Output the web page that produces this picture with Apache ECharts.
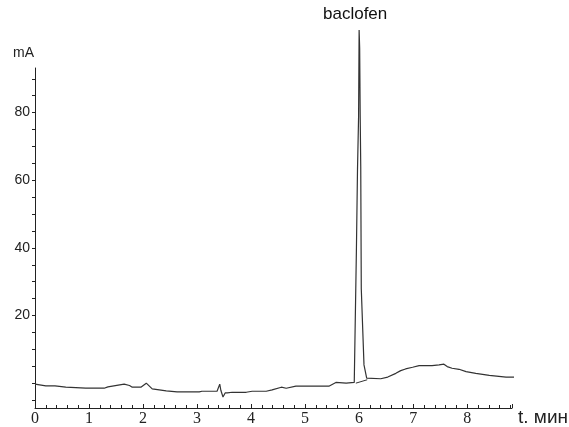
<!DOCTYPE html>
<html>
<head>
<meta charset="utf-8">
<script src="https://cdn.jsdelivr.net/npm/echarts@6/dist/echarts.min.js"></script>
<style>
  html, body { margin: 0; padding: 0; background: #fff; }
  #chart { width: 569px; height: 427px; }
</style>
</head>
<body>
<div id="chart"></div>
<script>
// chromatogram trace, time in min, signal in mA
const time = [0, 0.20, 0.37, 0.57, 0.94, 1.28, 1.35, 1.46, 1.65, 1.75, 1.80, 1.96, 2.06, 2.17, 2.43, 2.63, 3.04, 3.09, 3.37, 3.40, 3.42, 3.44, 3.48, 3.52, 3.56, 3.65, 3.91, 4.02, 4.28, 4.39, 4.56, 4.65, 4.83, 5.44, 5.57, 5.76, 5.91, 5.94, 5.95, 5.97, 5.99, 6.00, 6.01, 6.02, 6.03, 6.04, 6.09, 6.14, 6.15, 6.40, 6.53, 6.68, 6.77, 6.86, 6.99, 7.11, 7.35, 7.48, 7.57, 7.63, 7.72, 7.85, 7.98, 8.16, 8.41, 8.72, 9.06];
const signal = [-0.3, -0.8, -0.8, -1.2, -1.5, -1.5, -1.1, -0.8, -0.3, -0.7, -1.2, -1.2, 0.0, -1.7, -2.3, -2.6, -2.6, -2.4, -2.4, -2.4, -0.3, -2.1, -4.1, -2.9, -2.9, -2.7, -2.7, -2.4, -2.4, -2.0, -1.2, -1.5, -0.9, -0.9, 0.2, 0.0, 0.2, 0.0, 39.7, 63.2, 78.8, 104.4, 99.1, 78.8, 64.1, 27.9, 5.4, 1.5, 1.0, 1.3, 1.8, 2.9, 3.7, 4.2, 4.7, 5.2, 5.2, 5.4, 5.6, 4.9, 4.4, 4.1, 3.4, 2.9, 2.3, 1.8, 1.8];
// integration baseline under the peak
const baseTime = [5.94, 6.15];
const baseSignal = [0.0, 1.0];

const yLabels = [20, 40, 60, 80];
const yTicks = [-5, 0, 5, 10, 15, 20, 25, 30, 35, 40, 45, 50, 55, 60, 65, 70, 75, 80, 85, 90];

const chart = echarts.init(document.getElementById('chart'));

const option = {
  animation: false,
  backgroundColor: '#fff',
  grid: { left: 35, right: 57, top: 68, bottom: 17 },
  xAxis: {
    type: 'value',
    min: 0,
    max: 8.83,
    interval: 1,
    axisLine: { onZero: false, lineStyle: { color: '#222', width: 1 } },
    axisTick: { inside: true, length: 4, lineStyle: { color: '#222' } },
    minorTick: { show: true, splitNumber: 5, length: 3, lineStyle: { color: '#222' } },
    splitLine: { show: false },
    axisLabel: { color: '#222', fontFamily: 'Liberation Serif', fontSize: 16, margin: 3, showMaxLabel: false }
  },
  yAxis: {
    type: 'value',
    min: -7.35,
    max: 93.2,
    axisLine: { show: true, onZero: false, lineStyle: { color: '#222', width: 1 } },
    axisTick: { show: true, length: 3, customValues: yTicks, lineStyle: { color: '#222' } },
    splitLine: { show: false },
    axisLabel: { color: '#222', fontFamily: 'Liberation Sans', fontSize: 14, margin: 5, customValues: yLabels }
  },
  graphic: [
    { type: 'text', left: 13, top: 46, style: { text: 'mA', font: '14px "Liberation Sans"', fill: '#222' } },
    { type: 'text', left: 518, top: 408, style: { text: 't. мин', font: '19px "Liberation Sans"', fill: '#222' } },
    { type: 'text', left: 323, top: 6, style: { text: 'baclofen', font: '17px "Liberation Sans"', fill: '#111' } }
  ],
  series: [
    {
      type: 'line',
      data: time.map((t, i) => [t, signal[i]]),
      showSymbol: false,
      clip: false,
      lineStyle: { color: '#333', width: 1.2 }
    },
    {
      type: 'line',
      data: baseTime.map((t, i) => [t, baseSignal[i]]),
      showSymbol: false,
      clip: false,
      lineStyle: { color: '#333', width: 1 }
    }
  ]
};

chart.setOption(option);
</script>
</body>
</html>
